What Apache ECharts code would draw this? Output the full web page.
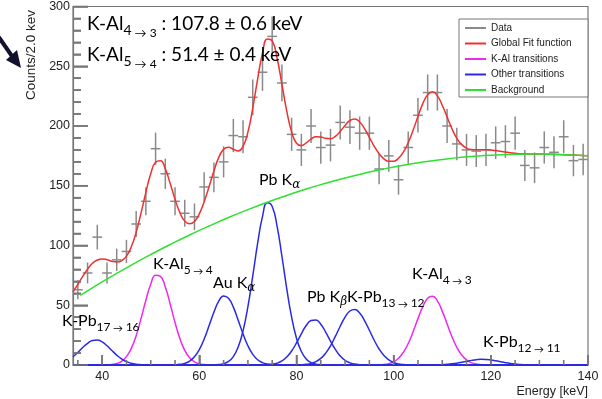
<!DOCTYPE html>
<html>
<head>
<meta charset="utf-8">
<script src="https://cdn.jsdelivr.net/npm/echarts@6/dist/echarts.min.js"></script>
<style>
  html, body { margin: 0; padding: 0; background: #fff; }
  #chart { width: 602px; height: 399px; }
</style>
</head>
<body>
<div id="chart"></div>
<script>
// measured spectrum, 2 keV bins
const dataEnergy = [35, 37, 39, 41, 43, 45, 47, 49, 51, 53, 55, 57, 59, 61, 63, 65, 67, 69, 71, 73, 75, 77,
  79, 81, 83, 85, 87, 89, 91, 93, 95, 97, 99, 101, 103, 105, 107, 109, 111, 113, 115, 117, 119, 121, 123,
  125, 127, 129, 131, 133, 135, 137, 139];
const dataCounts = [63, 77, 107, 77, 88, 95, 118, 137, 181, 160, 137, 127, 124, 149, 157, 170, 192, 191, 224, 245, 275, 236,
  193, 180, 200, 182, 184, 203, 199, 194, 194, 164, 175, 155, 182, 209, 228, 228, 200, 185, 180, 179, 180, 186, 187,
  194, 167, 165, 182, 178, 191, 171, 172];

// global fit
const fitEnergy = [34, 35, 36, 37, 38, 39, 40, 41, 42, 43, 44, 45, 46, 47, 48, 49, 50, 51, 52, 53, 54, 55, 56, 57, 58, 59,
  60, 61, 62, 63, 64, 65, 66, 67, 68, 69, 70, 71, 72, 73, 74, 75, 76, 77, 78, 79, 80, 81, 82, 83, 84, 85, 86, 87, 88, 89,
  90, 91, 92, 93, 94, 95, 96, 97, 98, 99, 100, 101, 102, 103, 104, 105, 106, 107, 108, 109, 110, 111, 112, 113, 114, 115,
  116, 117, 118, 119, 120, 121, 122, 123, 124, 125, 126, 127, 128, 130, 132, 134, 136, 138, 140];
const fitCounts = [61.3, 67.5, 74.1, 80.2, 85.1, 87.9, 88.8, 88.1, 86.8, 86.2, 87.2, 91.1, 98.9, 111.0, 127.1, 144.5,
  160.0, 169.7, 170.9, 164.1, 151.9, 138.7, 127.5, 120.4, 118.1, 120.1, 126.5, 136.6, 149.2, 162.3, 173.7, 180.5, 182.3,
  180.6, 179.1, 183.0, 194.9, 215.0, 239.3, 260.9, 272.9, 271.3, 256.9, 235.0, 212.4, 195.0, 185.6, 183.6, 185.9, 189.1,
  191.0, 190.8, 189.7, 189.4, 191.4, 195.4, 200.5, 204.6, 205.8, 203.4, 197.8, 190.5, 183.0, 176.8, 172.5, 170.4, 170.5,
  173.0, 178.2, 186.1, 196.4, 208.0, 218.7, 226.2, 228.6, 225.2, 217.4, 207.5, 197.7, 189.6, 184.4, 181.5, 180.3, 180.1,
  180.2, 180.2, 179.9, 179.4, 178.8, 178.2, 177.6, 177.2, 176.8, 176.7, 176.6, 176.5, 176.3, 176.1, 175.8, 175.5, 175.0];

// background
const bgEnergy = [35.5, 38, 42, 46, 50, 54, 58, 62, 66, 70, 74, 78, 82, 86, 90, 94, 98, 102, 106, 110, 114, 118, 122,
  126, 130, 134, 138, 140];
const bgCounts = [58.3, 64.6, 74.3, 83.6, 92.4, 100.8, 108.8, 116.3, 123.4, 130.0, 136.2, 141.9, 147.3, 152.1, 156.5,
  160.5, 164.1, 167.2, 169.8, 172.0, 173.8, 175.1, 176.0, 176.4, 176.5, 176.1, 175.5, 175.0];

// K-Al transitions [keV, counts]
const kAl54 = [[34, 0], [40, 0.03], [41, 0.14], [42, 0.44], [43, 1.24], [44, 3.1], [45, 7.0], [46, 13.9], [47, 24.5],
  [48, 38.7], [49, 54.2], [50, 67.6], [51, 75.1], [52, 74.2], [53, 65.3], [54, 51.1], [55, 35.6], [56, 22.1], [57, 12.2],
  [58, 6.0], [59, 2.6], [60, 1.02], [61, 0.35], [62, 0.11], [63, 0.03], [140, 0]];
const kAl43 = [[34, 0], [96, 0.05], [97, 0.16], [98, 0.46], [99, 1.17], [100, 2.69], [101, 5.61], [102, 10.6], [103, 18.0],
  [104, 27.8], [105, 38.8], [106, 48.9], [107, 55.8], [108, 57.5], [109, 53.6], [110, 45.1], [111, 34.4], [112, 23.7],
  [113, 14.7], [114, 8.3], [115, 4.23], [116, 1.95], [117, 0.81], [118, 0.31], [119, 0.10], [120, 0.03], [140, 0]];

// other transitions [keV, counts]
const kPb17 = [[34, 6.9], [35, 10.5], [36, 14.6], [37, 18.1], [38, 20.5], [39, 20.9], [40, 19.3], [41, 16.1], [42, 12.1],
  [43, 8.3], [44, 5.1], [45, 2.8], [46, 1.4], [47, 0.65], [48, 0.27], [49, 0.1], [50, 0.03], [140, 0]];
const auKa = [[34, 0], [54, 0.05], [55, 0.18], [56, 0.53], [57, 1.38], [58, 3.25], [59, 6.84], [60, 12.9], [61, 21.7],
  [62, 32.8], [63, 44.2], [64, 53.4], [65, 57.8], [66, 55.9], [67, 48.4], [68, 37.4], [69, 26.0], [70, 16.1], [71, 8.9],
  [72, 4.4], [73, 1.97], [74, 0.78], [75, 0.28], [76, 0.09], [140, 0]];
const pbKa = [[34, 0], [63, 0.1], [64, 0.38], [65, 1.12], [66, 2.97], [67, 7.07], [68, 15.0], [69, 28.6], [70, 48.8],
  [71, 74.5], [72, 101.7], [73, 124.2], [74, 135.7], [75, 132.7], [76, 116.2], [77, 91.0], [78, 63.8], [79, 40.0],
  [80, 22.4], [81, 11.3], [82, 5.06], [83, 2.03], [84, 0.73], [85, 0.24], [86, 0.07], [140, 0]];
const pbKb = [[34, 0], [73, 0.07], [74, 0.23], [75, 0.62], [76, 1.53], [77, 3.38], [78, 6.66], [79, 11.7], [80, 18.5],
  [81, 26.1], [82, 33.0], [83, 37.2], [84, 37.7], [85, 34.1], [86, 27.6], [87, 20.0], [88, 13.0], [89, 7.52], [90, 3.90],
  [91, 1.81], [92, 0.75], [93, 0.28], [94, 0.09], [140, 0]];
const kPb13 = [[34, 0], [80, 0.08], [81, 0.22], [82, 0.57], [83, 1.33], [84, 2.85], [85, 5.57], [86, 9.92], [87, 16.1],
  [88, 24.0], [89, 32.4], [90, 40.1], [91, 45.2], [92, 46.4], [93, 43.5], [94, 37.2], [95, 29.1], [96, 20.7], [97, 13.4],
  [98, 7.96], [99, 4.31], [100, 2.12], [101, 0.95], [102, 0.39], [103, 0.15], [104, 0.05], [140, 0]];
const kPb12 = [[34, 0], [106, 0.01], [107, 0.03], [108, 0.06], [109, 0.14], [110, 0.29], [111, 0.55], [112, 0.95],
  [113, 1.52], [114, 2.26], [115, 3.08], [116, 3.87], [117, 4.48], [118, 4.78], [119, 4.70], [120, 4.27], [121, 3.56],
  [122, 2.75], [123, 1.95], [124, 1.27], [125, 0.77], [126, 0.43], [127, 0.22], [128, 0.10], [129, 0.05], [140, 0]];

// axis ticks
const xTickLabels = [40, 60, 80, 100, 120, 140];
const xMinorTicks = [35, 45, 50, 55, 65, 70, 75, 85, 90, 95, 105, 110, 115, 125, 130, 135];
const yTickLabels = [0, 50, 100, 150, 200, 250, 300];
const yMinorTicks = [10, 20, 30, 40, 60, 70, 80, 90, 110, 120, 130, 140, 160, 170, 180, 190, 210, 220, 230, 240,
  260, 270, 280, 290];
const legendNames = ['Data', 'Global Fit function', 'K-Al transitions', 'Other transitions', 'Background'];

const GRAY = '#8a8a8a';
const RED = '#f03030';
const MAGENTA = '#f028f0';
const BLUE = '#2a2ae6';
const GREEN = '#30e030';
const AXIS = '#777';
const TXT = '#222';
const SANS = '"Liberation Sans", Arial, sans-serif';
const LATO = 'Lato, "Open Sans", sans-serif';

const rich = {
  m: { fontFamily: LATO, fontSize: 16, color: '#111', verticalAlign: 'top' },
  s: { fontFamily: LATO, fontSize: 12, color: '#111', verticalAlign: 'top', padding: [8, 0, 0, 0] },
  a: { fontFamily: LATO, fontSize: 10, color: '#111', verticalAlign: 'top', padding: [11, 0, 0, 0] },
  g: { fontFamily: 'DejaVu Serif, serif', fontStyle: 'italic', fontSize: 12, color: '#111', verticalAlign: 'top', padding: [7, 0, 0, 0] },
  M: { fontFamily: LATO, fontSize: 19, color: '#111', verticalAlign: 'top' },
  S: { fontFamily: LATO, fontSize: 14, color: '#111', verticalAlign: 'top', padding: [9, 0, 0, 0] },
  A: { fontFamily: LATO, fontSize: 12, color: '#111', verticalAlign: 'top', padding: [13, 0, 0, 0] }
};

// [left, top, rich text]
const notes = [
  [87, 14, '{M|K-Al}{S|4}{A| → 3}{M| : 107.8 ± 0.6 keV}'],
  [87, 45, '{M|K-Al}{S|5}{A| → 4}{M| : 51.4 ± 0.4 keV}'],
  [259, 172, '{m|Pb K}{g|α}'],
  [153, 256, '{m|K-Al}{s|5}{a| → }{s|4}'],
  [213, 275, '{m|Au K}{g|α}'],
  [62, 313, '{m|K-Pb}{s|17}{a| → }{s|16}'],
  [307, 289, '{m|Pb K}{g|β}'],
  [347, 289, '{m|K-Pb}{s|13}{a| → }{s|12}'],
  [412, 266, '{m|K-Al}{s|4}{a| → }{s|3}'],
  [483, 334, '{m|K-Pb}{s|12}{a| → }{s|11}']
];

function curve(name, color, data, z) {
  return {
    name, type: 'line', data, smooth: true, showSymbol: false, z,
    lineStyle: { color, width: 1.5 }, itemStyle: { color }
  };
}

// ROOT-style ticks pointing into the frame, placed through the axis scales
function ticks(values, onX, len) {
  return {
    type: 'custom', z: 8, clip: false,
    data: values.map(v => (onX ? [v, 0] : [34, v])),
    encode: { x: 0, y: 1 },
    itemStyle: { color: AXIS },
    renderItem(params, api) {
      const p = api.coord([api.value(0), api.value(1)]);
      const shape = onX
        ? { x1: p[0], y1: p[1], x2: p[0], y2: p[1] - len }
        : { x1: p[0], y1: p[1], x2: p[0] + len, y2: p[1] };
      return { type: 'line', shape, style: { stroke: AXIS, lineWidth: 1.6 } };
    }
  };
}

const chart = echarts.init(document.getElementById('chart'), null, { renderer: 'canvas' });

const option = {
  animation: false,
  backgroundColor: '#fff',
  grid: { left: 73, right: 14, top: 6, bottom: 34, show: true, borderColor: AXIS, borderWidth: 1.2, backgroundColor: 'transparent' },
  legend: {
    data: legendNames, orient: 'vertical', left: 465, top: 22, padding: 0,
    itemWidth: 21, itemHeight: 2, itemGap: 3.5, icon: 'rect', selectedMode: false, z: 20,
    textStyle: { fontFamily: SANS, fontSize: 10, color: TXT, lineHeight: 12 }
  },
  xAxis: {
    type: 'value', min: 34, max: 140,
    axisLine: { show: true, lineStyle: { color: AXIS, width: 1.2 } },
    axisTick: { show: true, inside: true, length: 10, customValues: xTickLabels, lineStyle: { color: AXIS, width: 1.6 } },
    axisLabel: { customValues: xTickLabels, margin: 5, fontFamily: SANS, fontSize: 12.5, color: TXT },
    splitLine: { show: false },
    name: 'Energy [keV]', nameLocation: 'end', nameGap: 0,
    nameTextStyle: { fontFamily: SANS, fontSize: 12.5, color: TXT, align: 'right', verticalAlign: 'top', padding: [20, 0, 0, 0] }
  },
  yAxis: {
    type: 'value', min: 0, max: 300, interval: 50,
    axisLine: { show: true, lineStyle: { color: AXIS, width: 1.2 } },
    axisTick: { show: true, inside: true, length: 15, lineStyle: { color: AXIS, width: 1.6 } },
    minorTick: { show: true, splitNumber: 5, length: 8, lineStyle: { color: AXIS, width: 1.6 } },
    axisLabel: { margin: 3, fontFamily: SANS, fontSize: 12.5, color: TXT },
    splitLine: { show: false }
  },
  series: [
    ticks(xTickLabels, true, 10),
    ticks(xMinorTicks, true, 5),
    ticks(yTickLabels, false, 15),
    ticks(yMinorTicks, false, 8),
    {
      name: 'Data', type: 'custom', z: 3,
      data: dataEnergy.map((e, i) => [e, dataCounts[i]]),
      encode: { x: 0, y: 1 },
      itemStyle: { color: GRAY },
      renderItem(params, api) {
        const x = api.value(0), y = api.value(1), err = Math.sqrt(y);
        const top = api.coord([x, y + err]), bot = api.coord([x, y - err]);
        const l = api.coord([x - 1, y]), r = api.coord([x + 1, y]);
        const style = { stroke: GRAY, lineWidth: 1.5 };
        return {
          type: 'group', children: [
            { type: 'line', shape: { x1: top[0], y1: top[1], x2: bot[0], y2: bot[1] }, style },
            { type: 'line', shape: { x1: l[0], y1: l[1], x2: r[0], y2: r[1] }, style }
          ]
        };
      }
    },
    curve('Global Fit function', RED, fitEnergy.map((e, i) => [e, fitCounts[i]]), 5),
    curve('K-Al transitions', MAGENTA, kAl54, 4),
    curve('K-Al transitions', MAGENTA, kAl43, 4),
    curve('Other transitions', BLUE, kPb17, 4),
    curve('Other transitions', BLUE, auKa, 4),
    curve('Other transitions', BLUE, pbKa, 4),
    curve('Other transitions', BLUE, pbKb, 4),
    curve('Other transitions', BLUE, kPb13, 4),
    curve('Other transitions', BLUE, kPb12, 4),
    curve('Background', GREEN, bgEnergy.map((e, i) => [e, bgCounts[i]]), 6)
  ],
  graphic: [
    // legend frame
    { type: 'rect', z: 15, shape: { x: 459, y: 19, width: 129, height: 78 }, style: { fill: '#fff', stroke: '#777', lineWidth: 1 } },
    // y title
    {
      type: 'text', x: 31, y: 55, rotation: Math.PI / 2, z: 20,
      style: { text: 'Counts/2.0 kev', fontFamily: SANS, fontSize: 13.5, fill: TXT, align: 'center', verticalAlign: 'middle' }
    },
    // pointer arrow
    { type: 'line', z: 20, shape: { x1: -2, y1: 36, x2: 14, y2: 59 }, style: { stroke: '#12122e', lineWidth: 4 } },
    { type: 'polygon', z: 20, shape: { points: [[21, 68], [6, 60], [17, 50]] }, style: { fill: '#12122e' } }
  ].concat(notes.map(([x, y, text]) => ({
    type: 'text', x, y, z: 20,
    style: { text, rich, align: 'left', verticalAlign: 'top' }
  })))
};

chart.setOption(option);
</script>
</body>
</html>
